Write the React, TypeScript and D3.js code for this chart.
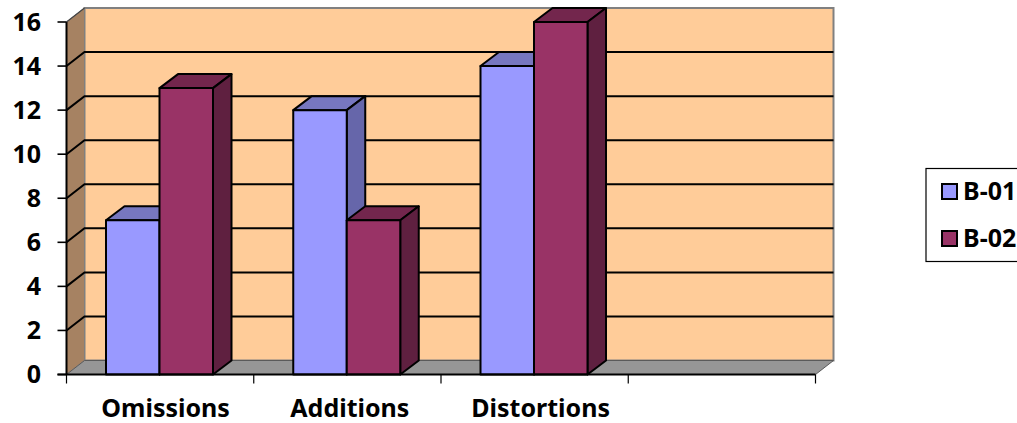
import React from "react";
import * as d3 from "d3";

const categories = ["Omissions", "Additions", "Distortions", ""];
const seriesNames = ["B-01", "B-02"];
const b01Values = [7, 12, 14];
const b02Values = [13, 7, 16];
const yTicks = [0, 2, 4, 6, 8, 10, 12, 14, 16];

const fills = [
  { front: "#9999ff", top: "#7777bf", side: "#6666aa" },
  { front: "#993366", top: "#73264d", side: "#5f2040" },
];
const FONT = "'Noto Sans', sans-serif";

// Oblique offset of the back wall relative to the front plane.
const DX = 18;
const DY = -14;
const BAR_DEPTH_DX = 18.5;
// Horizontal shift of each category label from its band centre.
const labelShift = [5.5, 2.5, 6];

const x = d3.scaleBand<string>().domain(categories).range([66.5, 815.5]);
const y = d3.scaleLinear().domain([0, 16]).range([374.5, 22]);
const inner = d3.scaleBand<string>().domain(seriesNames).range([39.5, 146.5]);

const poly = (pts: [number, number][]) => pts.map((p) => p.join(",")).join(" ");

export default function App() {
  const x0 = x.range()[0];
  const x1 = x.range()[1];
  const y0 = y(0);
  const y16 = y(16);
  const series = [b01Values, b02Values];

  return (
    <svg
      width={1017}
      height={423}
      style={{ position: "absolute", left: 0, top: 0, background: "#fff" }}
      fontFamily={FONT}
    >
      {/* back wall */}
      <rect x={x0 + DX} y={y16 + DY} width={x1 - x0} height={y0 - y16} fill="#ffcc99" stroke="#808080" strokeWidth={2} />
      {/* side wall */}
      <polygon
        points={poly([[x0, y0], [x0 + DX, y0 + DY], [x0 + DX, y16 + DY], [x0, y16]])}
        fill="#a68262"
        stroke="#808080"
        strokeWidth={1}
      />
      {/* floor */}
      <polygon
        points={poly([[x0, y0], [x1, y0], [x1 + DX, y0 + DY], [x0 + DX, y0 + DY]])}
        fill="#969696"
        stroke="#5a5a5a"
        strokeWidth={1}
      />
      {/* gridlines run across the side wall and along the back wall */}
      {yTicks.filter((t) => t > 0 && t < 16).map((t) => (
        <polyline
          key={t}
          points={poly([[x0, y(t)], [x0 + DX, y(t) + DY], [x1 + DX, y(t) + DY]])}
          fill="none"
          stroke="#000"
          strokeWidth={2}
        />
      ))}
      <line x1={x0} x2={x0} y1={y16} y2={y0} stroke="#000" strokeWidth={2} />
      <line x1={x0} x2={x0 + DX} y1={y16} y2={y16 + DY} stroke="#444" strokeWidth={1.2} />

      {/* columns */}
      {categories.slice(0, 3).map((c, i) =>
        seriesNames.map((s, k) => {
          const left = (x(c) as number) + (inner(s) as number);
          const right = left + inner.bandwidth();
          const v = y(series[k][i]);
          const f = fills[k];
          return (
            <g key={c + s} stroke="#000" strokeWidth={2} strokeLinejoin="round">
              <polygon
                points={poly([[left, v], [right, v], [right + BAR_DEPTH_DX, v + DY], [left + BAR_DEPTH_DX, v + DY]])}
                fill={f.top}
              />
              <polygon
                points={poly([[right, v], [right + BAR_DEPTH_DX, v + DY], [right + BAR_DEPTH_DX, y0 + DY], [right, y0]])}
                fill={f.side}
              />
              <rect x={left} y={v} width={right - left} height={y0 - v} fill={f.front} />
            </g>
          );
        })
      )}

      {/* axes */}
      <line x1={x0 - 9} x2={x1} y1={y0} y2={y0} stroke="#000" strokeWidth={2} />
      {yTicks.map((t) => (
        <g key={t}>
          <line x1={x0 - 9} x2={x0} y1={y(t)} y2={y(t)} stroke="#000" strokeWidth={1.6} />
          <text x={41} y={y(t) - 1.5} textAnchor="end" dominantBaseline="central" fontSize={25} fontWeight={700} fill="#000">
            {t}
          </text>
        </g>
      ))}
      {[...categories.map((c) => x(c) as number), x1].map((tx, i) => (
        <line key={i} x1={tx} x2={tx} y1={y0} y2={y0 + 9} stroke="#000" strokeWidth={1.2} />
      ))}
      {categories.slice(0, 3).map((c, i) => (
        <text
          key={c}
          x={(x(c) as number) + x.bandwidth() / 2 + labelShift[i]}
          y={417}
          textAnchor="middle"
          fontSize={25}
          fontWeight={700}
          fill="#000"
        >
          {c}
        </text>
      ))}

      {/* legend */}
      <rect x={926} y={168.5} width={95} height={93} fill="#fff" stroke="#000" strokeWidth={1.2} />
      {seriesNames.map((s, k) => {
        const cy = 191 + k * 47;
        return (
          <g key={s}>
            <rect x={942} y={cy - 7} width={15} height={15} fill={fills[k].front} stroke="#000" strokeWidth={2} />
            <text x={963} y={cy - 1.5} dominantBaseline="central" fontSize={25} fontWeight={700} fill="#000">
              {s}
            </text>
          </g>
        );
      })}
    </svg>
  );
}
